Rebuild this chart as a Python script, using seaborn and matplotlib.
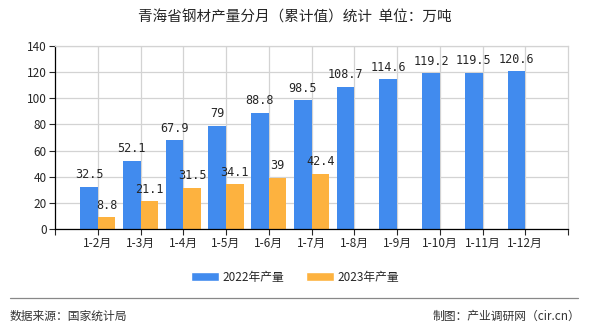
import matplotlib
matplotlib.use("Agg")
import matplotlib.pyplot as plt
import seaborn as sns
import pandas as pd
import numpy as np
from matplotlib.patches import Patch

categories = ["1-2月", "1-3月", "1-4月", "1-5月", "1-6月", "1-7月", "1-8月", "1-9月", "1-10月", "1-11月", "1-12月"]
values_2022 = [32.5, 52.1, 67.9, 79, 88.8, 98.5, 108.7, 114.6, 119.2, 119.5, 120.6]
values_2023 = [8.8, 21.1, 31.5, 34.1, 39, 42.4]
series_names = ["2022年产量", "2023年产量"]
colors = ["#418BEE", "#FDB23F"]

rows = []
for c, v in zip(categories, values_2022):
    rows.append({"月份": c, "系列": series_names[0], "值": v})
for c, v in zip(categories, values_2023):
    rows.append({"月份": c, "系列": series_names[1], "值": v})
df = pd.DataFrame(rows)

sns.set_theme(style="white")
plt.rcParams['font.family'] = ['Noto Sans CJK SC', 'DejaVu Sans']

fig = plt.figure(figsize=(5.9, 3.3), dpi=100)
ax = fig.add_axes([55/590, 1-229/330, (568-55)/590, (229-46)/330])

sns.barplot(data=df, x="月份", y="值", hue="系列", order=categories,
            hue_order=series_names, palette=colors, width=0.82,
            saturation=1, ax=ax, legend=False, errorbar=None, linewidth=0)

ax.set_xlim(-1, 11)
ax.set_ylim(0, 140)
ax.set_yticks(range(0, 141, 20))
ax.set_xticks(range(len(categories)))
ax.set_xticklabels(categories, fontsize=8.5)
ax.set_xticks([-1, 11], minor=True)
ax.tick_params(axis='y', labelsize=8.5, length=4, width=0.8, direction='out', left=True, pad=2)
ax.tick_params(axis='x', which='both', length=4, width=0.8, direction='out', bottom=True, pad=2)
ax.set_xlabel("")
ax.set_ylabel("")
ax.grid(True, color="#d3d3d3", linewidth=0.9)
ax.set_axisbelow(True)
for s in ["top", "right"]:
    ax.spines[s].set_color("#d3d3d3")
    ax.spines[s].set_linewidth(0.9)
for s in ["left", "bottom"]:
    ax.spines[s].set_color("black")
    ax.spines[s].set_linewidth(0.9)

# data labels
for cont in ax.containers:
    labels = []
    for b in cont:
        h = b.get_height()
        if np.isnan(h):
            labels.append("")
        else:
            labels.append(f"{h:g}")
    ax.bar_label(cont, labels=labels, padding=4, fontsize=8.5, family=['DejaVu Sans Mono'])

fig.text(0.5, 1-18/330, "青海省钢材产量分月（累计值）统计  单位：万吨", ha="center", va="center", fontsize=10.5)

handles = [Patch(facecolor=colors[0]), Patch(facecolor=colors[1])]
fig.legend(handles, series_names, loc="center", bbox_to_anchor=(0.5, 1-277/330), ncol=2,
           frameon=False, fontsize=8.5, handlelength=2.4, handleheight=0.9, columnspacing=1.8, handletextpad=0.3)

fig.add_artist(plt.Line2D([10/590, 578/590], [1-298/330, 1-298/330], color="#888888", linewidth=0.9))
fig.text(10/590, 1-316/330, "数据来源：国家统计局", ha="left", va="center", fontsize=8.5, color="#333333")
fig.text(580/590, 1-316/330, "制图：产业调研网（cir.cn）", ha="right", va="center", fontsize=8.5, color="#333333")

fig.savefig("out.png", dpi=100)
